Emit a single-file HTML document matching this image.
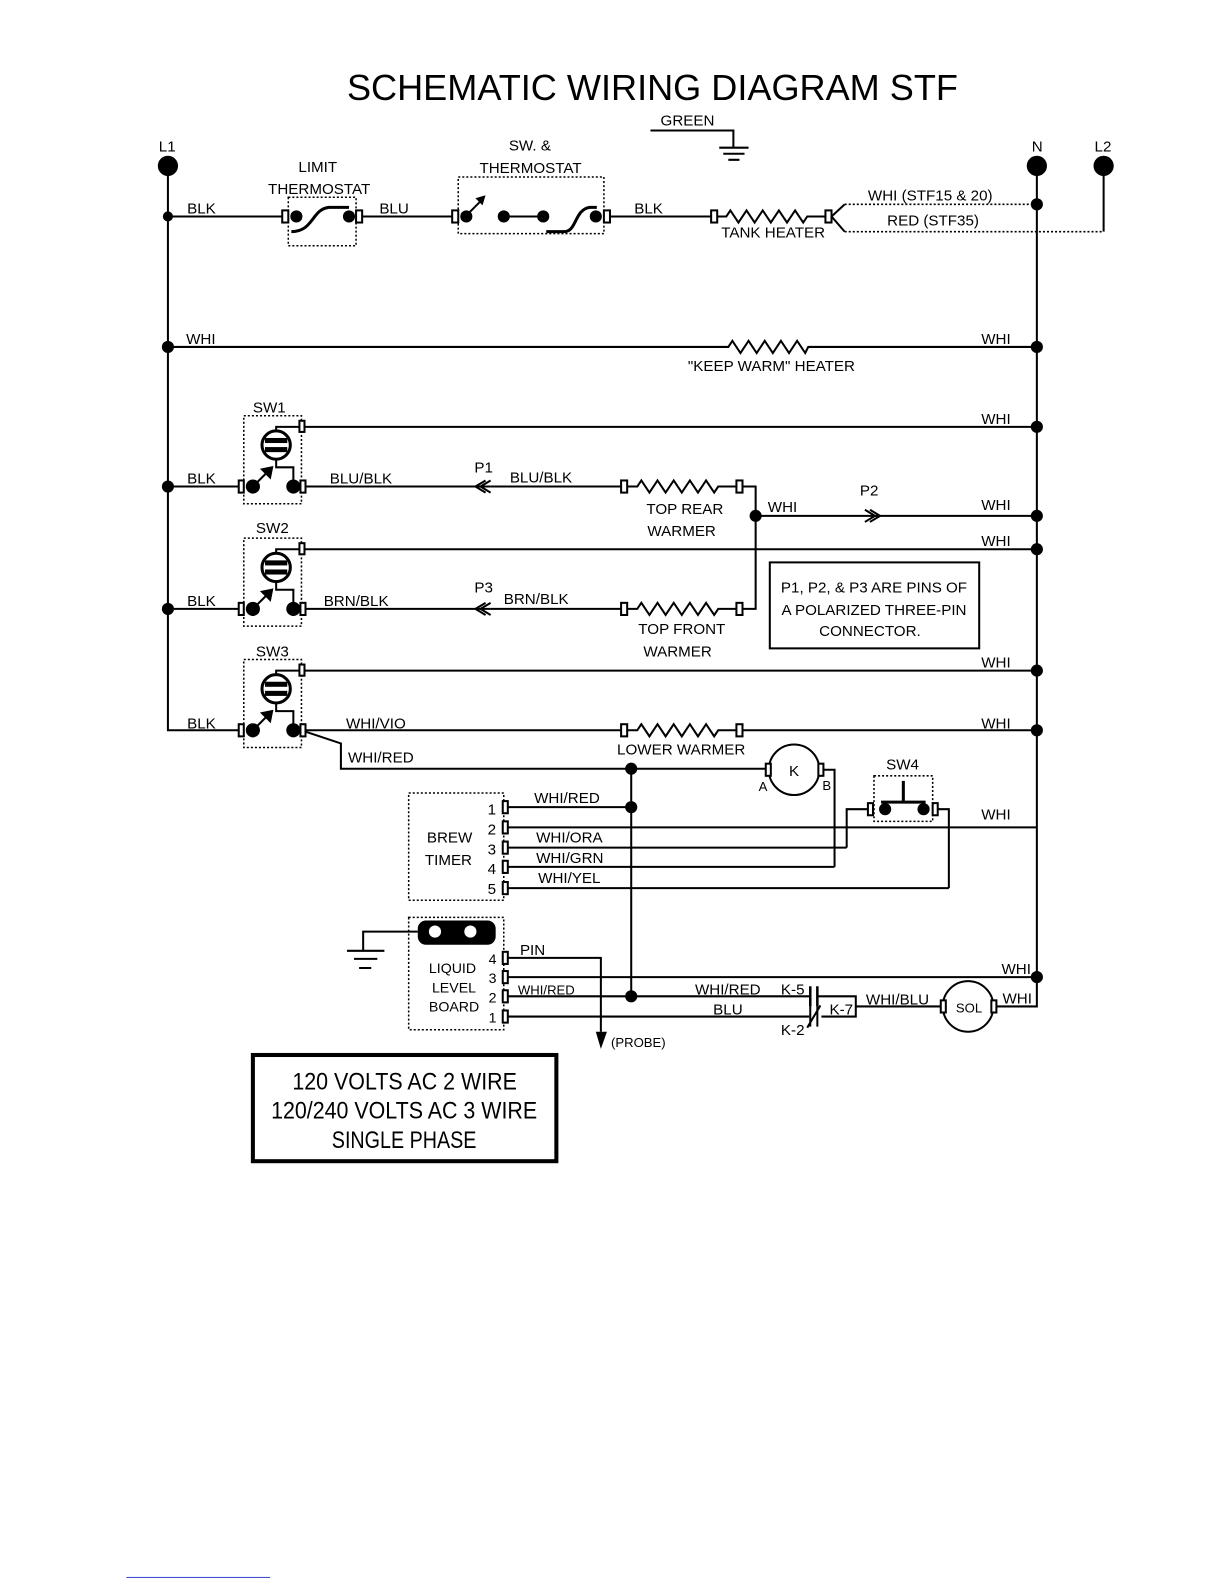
<!DOCTYPE html>
<html><head><meta charset="utf-8"><style>
html,body{margin:0;padding:0;background:#fff;width:1224px;height:1584px;overflow:hidden}
svg{display:block}
text{font-family:"Liberation Sans",sans-serif;font-size:15px;fill:#000}
</style></head><body>
<svg width="1224" height="1584" viewBox="0 0 1210 1566" preserveAspectRatio="none" xmlns="http://www.w3.org/2000/svg">
<defs>
<g id="sw" fill="none" stroke="#000" stroke-width="2">
  <rect x="241" y="411" width="57" height="87" stroke-dasharray="2,2" stroke-width="1.5"/>
  <circle cx="273" cy="440" r="14" stroke-width="3"/>
  <rect x="262" y="433" width="22" height="5" fill="#000" stroke="none"/>
  <rect x="262" y="442" width="22" height="5" fill="#000" stroke="none"/>
  <path d="M273 426 V422 H298"/>
  <path d="M273 454 V462 H290 V481"/>
  <rect x="296" y="416" width="5" height="11" fill="#fff"/>
  <rect x="236" y="475" width="5" height="12" fill="#fff"/>
  <rect x="297" y="475" width="5" height="12" fill="#fff"/>
  <circle cx="250" cy="481" r="6" fill="#000"/>
  <circle cx="290" cy="481" r="6" fill="#000"/>
  <path d="M254 477 L264 467"/>
  <path d="M259 464 L269 462 L267 472 Z" fill="#000"/>
</g>
</defs>

<text x="645" y="99" text-anchor="middle" style="font-size:36px" textLength="604" lengthAdjust="spacingAndGlyphs">SCHEMATIC WIRING DIAGRAM STF</text>

<g stroke="#000" stroke-width="2" fill="none">
  <path d="M166 164 V722 H236"/>
  <path d="M1025 164 V995 H990"/>
  <path d="M1091 164 V229"/>
  <path d="M643 129 H725 V146"/>
  <path d="M711 146 H740 M715 152 H736 M720 158 H731"/>
  <path d="M166 214 H280 M357 214 H447 M601 214 H705 M707 214 H718 l4 -6 l8 12 l8 -12 l8 12 l8 -12 l8 12 l8 -12 l8 12 l8 -12 l8 12 l4 -6 H818"/>
  <path d="M822 214 L835 202 M822 214 L835 229"/>
  <path d="M835 202 H1025 M835 229 H1091" stroke-dasharray="2,2" stroke-width="1.6"/>
  <rect x="285" y="195" width="67" height="48" stroke-dasharray="2,2" stroke-width="1.5"/>
  <rect x="453" y="175" width="144" height="56" stroke-dasharray="2,2" stroke-width="1.5"/>
  <path d="M288 229 C310 229 308 207 325 205 H345" stroke-width="3"/>
  <path d="M540 229 H558 C570 229 568 207 583 205 H590" stroke-width="3"/>
  <path d="M498 214 H537"/>
  <path d="M464 210 L474 200"/>
  <rect x="279" y="208" width="6" height="12" fill="#fff"/>
  <rect x="352" y="208" width="6" height="12" fill="#fff"/>
  <rect x="447" y="208" width="6" height="12" fill="#fff"/>
  <rect x="597" y="208" width="6" height="12" fill="#fff"/>
  <rect x="703" y="208" width="6" height="12" fill="#fff"/>
  <rect x="816" y="208" width="6" height="12" fill="#fff"/>
  <path d="M166 343 H720 l4 -6 l8 12 l8 -12 l8 12 l8 -12 l8 12 l8 -12 l8 12 l8 -12 l8 12 l3 -6 H1025"/>
  <path d="M301 422 H1025 M301 543 H1025 M301 663 H1025"/>
  <path d="M166 481 H236 M166 602 H236"/>
  <path d="M302 481 H485 M302 602 H485"/>
  <path d="M485 475 L475 481 L485 487 M480 475 L470 481 L480 487 M485 596 L475 602 L485 608 M480 596 L470 602 L480 608"/>
  <path d="M485 481 H614 M620 481 H630 l4 -6 l8 12 l8 -12 l8 12 l8 -12 l8 12 l8 -12 l8 12 l8 -12 l8 12 l4 -6 H728 M734 481 H747 V602 H734"/>
  <path d="M485 602 H614 M620 602 H630 l4 -6 l8 12 l8 -12 l8 12 l8 -12 l8 12 l8 -12 l8 12 l8 -12 l8 12 l4 -6 H728"/>
  <path d="M747 510 H1025"/>
  <path d="M855 504 L865 510 L855 516 M860 504 L870 510 L860 516"/>
  <path d="M302 722 H614 M620 722 H630 l4 -6 l8 12 l8 -12 l8 12 l8 -12 l8 12 l8 -12 l8 12 l8 -12 l8 12 l4 -6 H728 M734 722 H1025"/>
  <rect x="614" y="716" width="6" height="12" fill="#fff"/>
  <rect x="728" y="716" width="6" height="12" fill="#fff"/>
  <rect x="614" y="475" width="6" height="12" fill="#fff"/>
  <rect x="728" y="475" width="6" height="12" fill="#fff"/>
  <rect x="614" y="596" width="6" height="12" fill="#fff"/>
  <rect x="728" y="596" width="6" height="12" fill="#fff"/>
  <rect x="761" y="556" width="207" height="85" stroke-width="2"/>
  <path d="M298 722 L337 735 V760 H757"/>
  <path d="M624 760 V985"/>
  <circle cx="785" cy="761" r="25"/>
  <rect x="757" y="755" width="5" height="12" fill="#fff"/>
  <rect x="809" y="755" width="5" height="12" fill="#fff"/>
  <path d="M814 761 H825 V857"/>
  <rect x="864" y="767" width="58" height="45" stroke-dasharray="2,2" stroke-width="1.5"/>
  <path d="M893 772 V793 M871 793 H915" stroke-width="3"/>
  <rect x="858" y="794" width="5" height="12" fill="#fff"/>
  <rect x="922" y="794" width="5" height="12" fill="#fff"/>
  <path d="M858 800 H837 V838 M927 800 H938 V878"/>
  <rect x="404" y="784" width="94" height="106" stroke-dasharray="2,2" stroke-width="1.5"/>
  <path d="M502 798 H624 M502 818 H1025 M502 838 H837 M502 857 H825 M502 878 H938"/>
  <rect x="497" y="792" width="5" height="12" fill="#fff"/>
  <rect x="497" y="812" width="5" height="12" fill="#fff"/>
  <rect x="497" y="832" width="5" height="12" fill="#fff"/>
  <rect x="497" y="851" width="5" height="12" fill="#fff"/>
  <rect x="497" y="872" width="5" height="12" fill="#fff"/>
  <rect x="404" y="907" width="94" height="111" stroke-dasharray="2,2" stroke-width="1.5"/>
  <path d="M413 921 H359 V940 M343 940 H380 M350 948 H373 M355 957 H367"/>
  <path d="M502 947 H594 V1020 M502 966 H1025 M502 985 H801 M808 985 H846 V1005 H812 M502 1005 H800"/>
  <path d="M801 975 V995 M808 975 V995" stroke-width="2.5"/>
  <path d="M801 995 V1015 M808 995 V1015 M798 1016 L811 994" stroke-width="2"/>
  <path d="M846 995 H930 M984 995 H990"/>
  <circle cx="957" cy="995" r="25"/>
  <rect x="930" y="989" width="5" height="12" fill="#fff"/>
  <rect x="980" y="989" width="5" height="12" fill="#fff"/>
  <rect x="497" y="941" width="5" height="12" fill="#fff"/>
  <rect x="497" y="960" width="5" height="12" fill="#fff"/>
  <rect x="497" y="979" width="5" height="12" fill="#fff"/>
  <rect x="497" y="999" width="5" height="12" fill="#fff"/>
  <rect x="250" y="1043" width="300" height="105" stroke-width="4"/>
</g>
<rect x="413" y="910" width="77" height="24" rx="8" fill="#000"/>
<circle cx="430" cy="921" r="6" fill="#fff"/>
<circle cx="465" cy="921" r="6" fill="#fff"/>
<path d="M589 1020 H600 L594 1037 Z" fill="#000"/>
<use href="#sw"/>
<use href="#sw" y="121"/>
<use href="#sw" y="241"/>
<g fill="#000">
  <circle cx="166" cy="164" r="10"/><circle cx="1025" cy="164" r="10"/><circle cx="1091" cy="164" r="10"/>
  <circle cx="166" cy="214" r="5"/><circle cx="1025" cy="202" r="6"/>
  <circle cx="166" cy="343" r="6"/><circle cx="1025" cy="343" r="6"/>
  <circle cx="166" cy="481" r="6"/><circle cx="166" cy="602" r="6"/>
  <circle cx="1025" cy="422" r="6"/><circle cx="1025" cy="510" r="6"/><circle cx="1025" cy="543" r="6"/>
  <circle cx="1025" cy="663" r="6"/><circle cx="1025" cy="722" r="6"/><circle cx="1025" cy="966" r="6"/>
  <circle cx="747" cy="510" r="6"/>
  <circle cx="624" cy="760" r="6"/><circle cx="624" cy="798" r="6"/><circle cx="624" cy="985" r="6"/>
  <circle cx="293" cy="214" r="6"/><circle cx="345" cy="214" r="6"/>
  <circle cx="461" cy="214" r="6"/><circle cx="498" cy="214" r="6"/><circle cx="537" cy="214" r="6"/><circle cx="589" cy="214" r="6"/>
  <path d="M470 196 L480 193 L477 203 Z"/>
  <circle cx="875" cy="800" r="6"/><circle cx="913" cy="800" r="6"/>
</g>
<g>
<text x="157" y="150">L1</text><text x="1020" y="150">N</text><text x="1082" y="150">L2</text>
<text x="653" y="124">GREEN</text>
<text x="295" y="170">LIMIT</text><text x="265" y="192">THERMOSTAT</text>
<text x="503" y="149">SW. &amp;</text><text x="474" y="171">THERMOSTAT</text>
<text x="185" y="211">BLK</text><text x="375" y="211">BLU</text><text x="627" y="211">BLK</text>
<text x="713" y="235">TANK HEATER</text>
<text x="858" y="198">WHI (STF15 &amp; 20)</text><text x="877" y="223">RED (STF35)</text>
<text x="184" y="340">WHI</text><text x="970" y="340">WHI</text>
<text x="680" y="367">"KEEP WARM" HEATER</text>
<text x="250" y="408">SW1</text><text x="253" y="527">SW2</text><text x="253" y="649">SW3</text>
<text x="970" y="419">WHI</text>
<text x="185" y="478">BLK</text><text x="326" y="478">BLU/BLK</text><text x="469" y="467">P1</text><text x="504" y="477">BLU/BLK</text>
<text x="639" y="508">TOP REAR</text><text x="640" y="530">WARMER</text>
<text x="759" y="506">WHI</text><text x="850" y="490">P2</text><text x="970" y="504">WHI</text>
<text x="970" y="540">WHI</text>
<text x="185" y="599">BLK</text><text x="320" y="599">BRN/BLK</text><text x="469" y="586">P3</text><text x="498" y="597">BRN/BLK</text>
<text x="631" y="627">TOP FRONT</text><text x="636" y="649">WARMER</text>
<text x="864" y="586" text-anchor="middle">P1, P2, &amp; P3 ARE PINS OF</text>
<text x="864" y="608" text-anchor="middle">A POLARIZED THREE-PIN</text>
<text x="860" y="629" text-anchor="middle">CONNECTOR.</text>
<text x="970" y="660">WHI</text>
<text x="185" y="720">BLK</text><text x="342" y="720">WHI/VIO</text><text x="970" y="720">WHI</text>
<text x="610" y="746">LOWER WARMER</text>
<text x="344" y="754">WHI/RED</text>
<text x="780" y="767">K</text>
<text x="750" y="782" style="font-size:13px">A</text><text x="813" y="781" style="font-size:13px">B</text>
<text x="876" y="761">SW4</text>
<text x="528" y="794">WHI/RED</text><text x="970" y="810">WHI</text>
<text x="530" y="833">WHI/ORA</text><text x="530" y="853">WHI/GRN</text><text x="532" y="873">WHI/YEL</text>
<text x="422" y="833">BREW</text><text x="420" y="855">TIMER</text>
<text x="482" y="805">1</text><text x="482" y="825">2</text><text x="482" y="845">3</text><text x="482" y="864">4</text><text x="482" y="884">5</text>
<text x="424" y="962" style="font-size:14px">LIQUID</text><text x="427" y="981" style="font-size:14px">LEVEL</text><text x="424" y="1000" style="font-size:14px">BOARD</text>
<text x="483" y="953" style="font-size:14px">4</text><text x="483" y="972" style="font-size:14px">3</text><text x="483" y="991" style="font-size:14px">2</text><text x="483" y="1011" style="font-size:14px">1</text>
<text x="514" y="944">PIN</text><text x="512" y="983" style="font-size:13px">WHI/RED</text>
<text x="687" y="983">WHI/RED</text><text x="705" y="1003">BLU</text>
<text x="772" y="983">K-5</text><text x="820" y="1003">K-7</text><text x="772" y="1023">K-2</text>
<text x="856" y="993">WHI/BLU</text><text x="945" y="1001" style="font-size:13px">SOL</text>
<text x="990" y="963">WHI</text><text x="991" y="992">WHI</text>
<text x="604" y="1035" style="font-size:13px">(PROBE)</text>
<text x="289" y="1077" style="font-size:24px" textLength="222" lengthAdjust="spacingAndGlyphs">120 VOLTS AC  2 WIRE</text>
<text x="268" y="1106" style="font-size:24px" textLength="263" lengthAdjust="spacingAndGlyphs">120/240 VOLTS AC  3 WIRE</text>
<text x="328" y="1135" style="font-size:24px" textLength="143" lengthAdjust="spacingAndGlyphs">SINGLE PHASE</text>
</g>
<rect x="125" y="1559" width="142" height="1" fill="#3344cc"/>
</svg>
</body></html>
